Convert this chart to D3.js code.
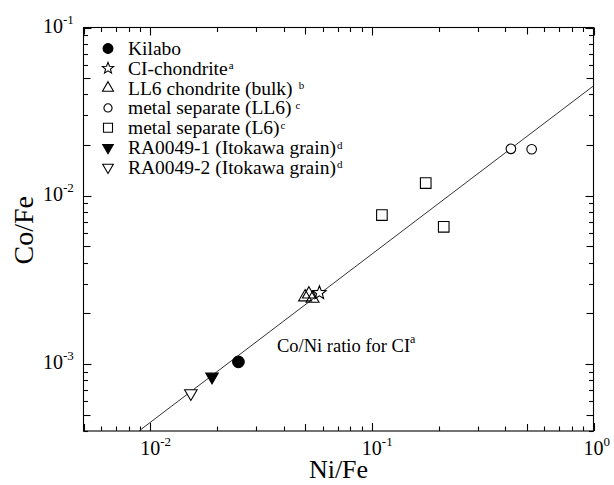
<!DOCTYPE html>
<html><head><meta charset="utf-8">
<script src="https://cdn.jsdelivr.net/npm/d3@7"></script>
<style>
body{margin:0;background:#fff}
svg{display:block}
text{font-family:"Liberation Serif","Times New Roman",serif;fill:#000}
</style>
</head><body>
<svg id="c" width="614" height="485"></svg>
<script>
// ---- data ----
const seriesNames = ["Kilabo","CI-chondrite","LL6 chondrite (bulk)","metal separate (LL6)","metal separate (L6)","RA0049-1 (Itokawa grain)","RA0049-2 (Itokawa grain)"];
const seriesNotes = ["","a","b","c","c","d","d"];
const seriesMarkers = ["circleFilled","star","triangleUp","circleOpen","square","triangleDownFilled","triangleDownOpen"];
const kilaboNiFe = [0.025];            const kilaboCoFe = [1.03e-3];
const ciNiFe = [0.058];                const ciCoFe = [2.65e-3];
const ll6BulkNiFe = [0.050, 0.052, 0.054]; const ll6BulkCoFe = [2.5e-3, 2.6e-3, 2.45e-3];
const metalLL6NiFe = [0.424, 0.526];   const metalLL6CoFe = [0.0190, 0.0189];
const metalL6NiFe = [0.111, 0.175, 0.211]; const metalL6CoFe = [7.68e-3, 0.0119, 6.54e-3];
const ra1NiFe = [0.019];               const ra1CoFe = [8.4e-4];
const ra2NiFe = [0.01525];             const ra2CoFe = [6.7e-4];
const ciCoNiRatio = 0.045;
const xDomain = [5e-3, 1];
const yDomain = [4e-4, 1e-1];
const xMajorTicks = [1e-2, 1e-1, 1];
const yMajorTicks = [1e-3, 1e-2, 1e-1];

const seriesX = [kilaboNiFe, ciNiFe, ll6BulkNiFe, metalLL6NiFe, metalL6NiFe, ra1NiFe, ra2NiFe];
const seriesY = [kilaboCoFe, ciCoFe, ll6BulkCoFe, metalLL6CoFe, metalL6CoFe, ra1CoFe, ra2CoFe];

// ---- layout ----
const L = 83.5, R = 593.5, T = 27.5, B = 431;
const svg = d3.select("#c");
const x = d3.scaleLog().domain(xDomain).range([L, R]);
const y = d3.scaleLog().domain(yDomain).range([B, T]);

function minorTicks(dom){
  const out = [];
  for (let e = Math.floor(Math.log10(dom[0])); e <= Math.ceil(Math.log10(dom[1])); e++){
    for (let m = 1; m <= 9; m++){
      const v = m * Math.pow(10, e);
      if (v >= dom[0]*0.999 && v <= dom[1]*1.001) out.push({v, m});
    }
  }
  return out;
}
const xt = minorTicks(xDomain), yt = minorTicks(yDomain);
const tickLen = d => d.m === 1 ? 8 : (d.m === 5 ? 7 : 4.5);

const axes = svg.append("g").attr("stroke", "#000").attr("stroke-width", 1.1);
xt.forEach(d => {
  const px = Math.round(x(d.v)) + 0.5;
  axes.append("line").attr("x1", px).attr("x2", px).attr("y1", B).attr("y2", B - tickLen(d));
  axes.append("line").attr("x1", px).attr("x2", px).attr("y1", T).attr("y2", T + tickLen(d));
});
yt.forEach(d => {
  const py = Math.round(y(d.v)) + 0.5;
  const len = d.m === 1 ? 8 : ((d.m === 5 || d.m === 2) ? 7 : 4.5);
  axes.append("line").attr("x1", L).attr("x2", L + len).attr("y1", py).attr("y2", py);
  axes.append("line").attr("x1", R).attr("x2", R - len).attr("y1", py).attr("y2", py);
});
axes.append("rect").attr("x", L).attr("y", T).attr("width", R - L).attr("height", B - T).attr("fill", "none");

// tick labels
function expLabel(g, v){
  const e = Math.round(Math.log10(v));
  g.append("tspan").text("10");
  g.append("tspan").attr("dy", -9).attr("font-size", 13).text(e === 0 ? "0" : "-" + Math.abs(e));
}
xMajorTicks.forEach(v => {
  const t = svg.append("text").attr("x", x(v) - 10).attr("y", 455).attr("font-size", 20);
  expLabel(t, v);
});
yMajorTicks.forEach(v => {
  const t = svg.append("text").attr("x", 43).attr("y", y(v) + 5).attr("font-size", 20);
  expLabel(t, v);
});

// axis titles
svg.append("text").attr("x", (L + R) / 2).attr("y", 478).attr("text-anchor", "middle").attr("font-size", 26).text("Ni/Fe");
svg.append("text").attr("transform", `translate(33,${(T + B) / 2 + 1}) rotate(-90)`).attr("text-anchor", "middle").attr("font-size", 28).text("Co/Fe");

// clip
svg.append("clipPath").attr("id", "clip").append("rect").attr("x", L).attr("y", T).attr("width", R - L).attr("height", B - T);

// CI Co/Ni line
const lineX = [yDomain[0] / ciCoNiRatio, xDomain[1]];
svg.append("path").attr("clip-path", "url(#clip)")
  .attr("d", d3.line().x(d => x(d)).y(d => y(d * ciCoNiRatio))(lineX))
  .attr("stroke", "#333").attr("stroke-width", 1).attr("fill", "none");

// markers
function starPath(ro, ri){
  const pts = [];
  for (let i = 0; i < 10; i++){
    const a = -Math.PI / 2 + i * Math.PI / 5;
    const r = i % 2 ? ri : ro;
    pts.push([r * Math.cos(a), r * Math.sin(a)]);
  }
  return "M" + pts.map(p => p[0].toFixed(2) + "," + p[1].toFixed(2)).join("L") + "Z";
}
function triPath(s, down){
  const h = s * Math.sqrt(3) / 2;
  const k = down ? -1 : 1;
  return `M0,${-k * h * 2 / 3}L${s / 2},${k * h / 3}L${-s / 2},${k * h / 3}Z`;
}
function marker(g, type, cx, cy, sc){
  const t = g.append("path").attr("transform", `translate(${cx},${cy})`).attr("stroke", "#000").attr("stroke-width", 1.1);
  if (type === "circleFilled") t.attr("d", d3.symbol(d3.symbolCircle, Math.PI * Math.pow(5.8 * sc, 2))()).attr("fill", "#000");
  else if (type === "circleOpen") t.attr("d", d3.symbol(d3.symbolCircle, Math.PI * Math.pow(4.8 * sc, 2))()).attr("fill", "#fff");
  else if (type === "star") t.attr("d", starPath(7 * sc, 3 * sc)).attr("fill", "#fff");
  else if (type === "triangleUp") t.attr("d", triPath(13 * sc, false)).attr("fill", "none");
  else if (type === "square") t.attr("d", `M${-5.3 * sc},${-5.3 * sc}h${10.6 * sc}v${10.6 * sc}h${-10.6 * sc}Z`).attr("fill", "#fff");
  else if (type === "triangleDownFilled") t.attr("d", triPath(12.5 * sc, true)).attr("fill", "#000");
  else if (type === "triangleDownOpen") t.attr("d", triPath(12.5 * sc, true)).attr("fill", "#fff");
}
const pts = svg.append("g");
seriesNames.forEach((n, i) => {
  seriesX[i].forEach((v, j) => marker(pts, seriesMarkers[i], x(v), y(seriesY[i][j]), 1));
});

// annotation
const ann = svg.append("text").attr("x", 277).attr("y", 352).attr("font-size", 18.5);
ann.append("tspan").text("Co/Ni ratio for CI");
ann.append("tspan").attr("dy", -9).attr("font-size", 12).text("a");

// legend
const lg = svg.append("g");
const supGap = [0, 1, 6, 4, 1, 1, 1];
seriesNames.forEach((n, i) => {
  const cy = 48.5 + i * 19.8;
  marker(lg, seriesMarkers[i], 108, cy, 0.85);
  const t = lg.append("text").attr("x", 128).attr("y", cy + 6.5).attr("font-size", 19.5);
  t.append("tspan").text(n);
  if (seriesNotes[i]) t.append("tspan").attr("dx", supGap[i]).attr("dy", -5.5).attr("font-size", 11).text(seriesNotes[i]);
});
</script>
</body></html>
